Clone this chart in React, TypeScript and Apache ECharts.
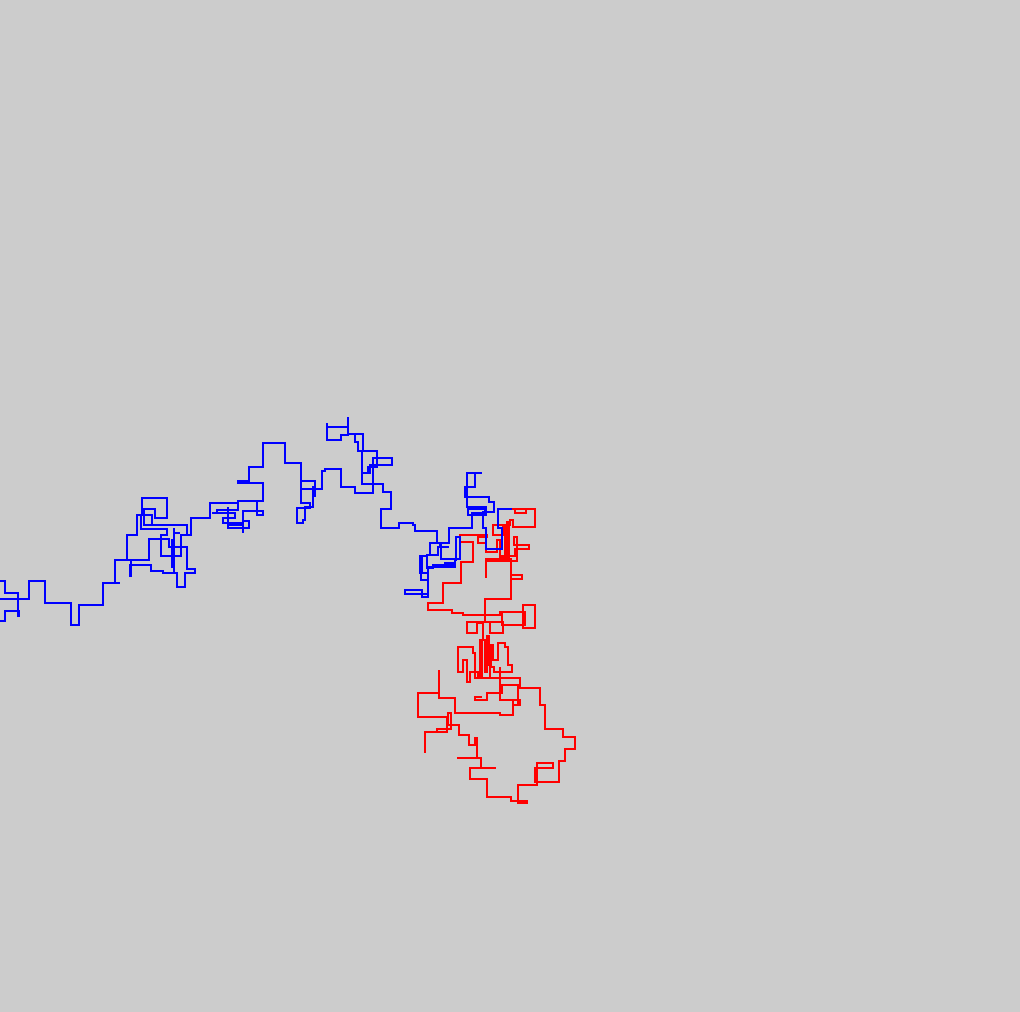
import React, { useEffect, useRef } from "react";
import * as echarts from "echarts";

// Pixel-space coordinates of two lattice random walks (x to the right, y downward)
const blueWalk: [number, number][] = [
  [512, 509], [498, 509], [498, 528], [502, 528], [502, 549], [486, 549], [486, 528], [483, 528], [483, 512],
  [494, 512], [494, 502], [489, 502], [489, 497], [465, 497], [465, 487], [475, 487], [475, 473], [482, 473],
  [467, 473], [467, 507], [486, 507], [486, 515], [468, 515], [468, 509], [485, 509], [485, 513], [472, 513],
  [472, 528], [449, 528], [449, 543], [441, 543], [441, 559], [460, 559], [460, 537], [456, 537], [456, 560],
  [455, 560], [455, 565], [433, 565], [433, 568], [427, 568], [427, 556], [420, 556], [420, 573], [422, 573],
  [422, 558], [420, 558], [420, 573], [428, 573], [428, 567], [455, 567], [455, 563], [445, 563], [445, 567],
  [428, 567], [428, 597], [422, 597], [422, 590], [405, 590], [405, 594], [428, 594], [428, 580], [421, 580],
  [421, 573], [420, 573], [420, 556], [427, 556], [427, 555], [430, 555], [430, 543], [440, 543], [440, 547],
  [449, 547], [438, 547], [438, 555], [430, 555], [430, 543], [437, 543], [437, 531], [415, 531], [415, 525],
  [413, 525], [413, 523], [399, 523], [399, 528], [381, 528], [381, 509], [391, 509], [391, 492], [383, 492],
  [383, 484], [362, 484], [362, 451], [358, 451], [358, 442], [355, 442], [355, 434], [348, 434], [348, 417],
  [348, 427], [327, 427], [327, 423], [327, 440], [341, 440], [341, 435], [348, 435], [348, 434], [363, 434],
  [363, 451], [377, 451], [377, 467], [368, 467], [368, 473], [362, 473], [370, 473], [370, 465], [392, 465],
  [392, 458], [373, 458], [373, 493], [355, 493], [355, 487], [341, 487], [341, 469], [325, 469], [325, 471],
  [322, 471], [322, 489], [315, 489], [315, 481], [301, 481], [301, 489], [313, 489], [313, 496], [315, 496],
  [315, 487], [313, 487], [313, 507], [305, 507], [305, 520], [303, 520], [303, 523], [297, 523], [297, 508],
  [310, 508], [310, 503], [301, 503], [301, 463], [285, 463], [285, 443], [263, 443], [263, 467], [249, 467],
  [249, 483], [238, 483], [238, 481], [249, 481], [249, 483], [263, 483], [263, 501], [257, 501], [257, 515],
  [263, 515], [263, 511], [243, 511], [243, 533], [243, 521], [249, 521], [249, 528], [228, 528], [228, 507],
  [228, 525], [243, 525], [243, 523], [223, 523], [223, 518], [235, 518], [235, 513], [212, 513], [217, 513],
  [217, 510], [238, 510], [238, 501], [257, 501], [238, 501], [238, 503], [210, 503], [210, 518], [191, 518],
  [191, 535], [181, 535], [181, 556], [161, 556], [161, 535], [167, 535], [167, 529], [141, 529], [141, 515],
  [152, 515], [152, 525], [187, 525], [187, 535], [187, 525], [144, 525], [144, 509], [155, 509], [155, 518],
  [167, 518], [167, 498], [142, 498], [142, 515], [137, 515], [137, 535], [127, 535], [127, 560], [149, 560],
  [149, 539], [169, 539], [169, 547], [187, 547], [187, 569], [195, 569], [195, 573], [185, 573], [185, 587],
  [177, 587], [177, 573], [174, 573], [174, 528], [174, 533], [180, 533], [174, 533], [174, 567], [172, 567],
  [172, 540], [174, 540], [174, 573], [163, 573], [163, 571], [151, 571], [151, 565], [130, 565], [130, 576],
  [131, 576], [131, 560], [115, 560], [115, 583], [120, 583], [103, 583], [103, 605], [79, 605], [79, 625],
  [71, 625], [71, 603], [45, 603], [45, 581], [29, 581], [29, 599], [-10, 599], [-10, 581], [5, 581], [5, 593],
  [18, 593], [18, 616], [19, 616], [19, 611], [5, 611], [5, 621], [-10, 621],
];

const redWalk: [number, number][] = [
  [512, 509], [526, 509], [526, 513], [515, 513], [515, 509], [535, 509], [535, 527], [513, 527], [513, 520],
  [510, 520], [510, 525], [493, 525], [493, 535], [503, 535], [503, 525], [505, 525], [505, 557], [507, 557],
  [507, 522], [509, 522], [509, 557], [500, 557], [500, 540], [497, 540], [497, 552], [486, 552], [486, 543],
  [478, 543], [478, 537], [487, 537], [487, 535], [460, 535], [460, 542], [473, 542], [473, 562], [461, 562],
  [461, 583], [443, 583], [443, 603], [428, 603], [428, 610], [452, 610], [452, 613], [463, 613], [463, 615],
  [485, 615], [485, 599], [511, 599], [511, 579], [522, 579], [522, 575], [511, 575], [511, 559], [486, 559],
  [486, 578], [486, 561], [517, 561], [517, 537], [514, 537], [514, 545], [529, 545], [529, 549], [515, 549],
  [515, 556], [500, 556], [500, 559], [511, 559], [511, 599], [485, 599], [485, 615], [500, 615], [500, 612],
  [525, 612], [525, 625], [502, 625], [502, 612], [523, 612], [523, 605], [535, 605], [535, 628], [523, 628],
  [523, 612], [500, 612], [500, 615], [485, 615], [485, 622], [503, 622], [503, 633], [490, 633], [490, 622],
  [467, 622], [467, 633], [477, 633], [477, 623], [483, 623], [483, 640], [480, 640], [480, 676], [482, 676],
  [482, 640], [485, 640], [485, 672], [487, 672], [487, 636], [489, 636], [489, 665], [491, 665], [491, 645],
  [493, 645], [493, 660], [498, 660], [498, 643], [505, 643], [505, 647], [508, 647], [508, 665], [512, 665],
  [512, 672], [494, 672], [494, 667], [490, 667], [490, 678], [475, 678], [475, 670], [475, 653], [473, 653],
  [473, 647], [458, 647], [458, 672], [463, 672], [463, 660], [467, 660], [467, 682], [470, 682], [470, 672],
  [478, 672], [478, 678], [520, 678], [520, 688], [540, 688], [540, 705], [545, 705], [545, 729], [563, 729],
  [563, 737], [575, 737], [575, 749], [565, 749], [565, 761], [559, 761], [559, 782], [537, 782], [537, 763],
  [553, 763], [553, 768], [535, 768], [535, 782], [537, 782], [537, 785], [518, 785], [518, 801], [527, 801],
  [527, 803], [518, 803], [518, 801], [511, 801], [511, 797], [487, 797], [487, 779], [470, 779], [470, 768],
  [496, 768], [481, 768], [481, 758], [457, 758], [477, 758], [477, 738], [475, 738], [475, 745], [469, 745],
  [469, 735], [459, 735], [459, 725], [448, 725], [448, 713], [451, 713], [451, 729], [447, 729], [437, 729],
  [437, 732], [425, 732], [425, 753], [425, 732], [447, 732], [447, 717], [418, 717], [418, 693], [439, 693],
  [439, 670], [439, 698], [455, 698], [455, 713], [500, 713], [500, 715], [513, 715], [513, 700], [500, 700],
  [500, 667], [500, 700], [520, 700], [520, 705], [513, 705], [518, 705], [518, 685], [502, 685], [502, 693],
  [487, 693], [487, 700], [475, 700], [475, 697], [482, 697],
];

const WIDTH = 1020;
const HEIGHT = 1012;

export default function App() {
  const ref = useRef<HTMLDivElement>(null);
  useEffect(() => {
    if (!ref.current) return;
    const chart = echarts.init(ref.current, undefined, { renderer: "svg" });
    chart.setOption({
      animation: false,
      backgroundColor: "#cccccc",
      grid: { left: 0, right: 0, top: 0, bottom: 0, containLabel: false },
      xAxis: { type: "value", min: 0, max: WIDTH, show: false },
      yAxis: { type: "value", min: 0, max: HEIGHT, inverse: true, show: false },
      series: [
        {
          name: "red",
          type: "line",
          data: redWalk,
          showSymbol: false,
          silent: true,
          clip: true,
          lineStyle: { color: "#ff0000", width: 2, join: "miter" },
          itemStyle: { color: "#ff0000" },
        },
        {
          name: "blue",
          type: "line",
          data: blueWalk,
          showSymbol: false,
          silent: true,
          clip: true,
          lineStyle: { color: "#0000ff", width: 2, join: "miter" },
          itemStyle: { color: "#0000ff" },
        },
      ],
    });
    return () => chart.dispose();
  }, []);
  return (
    <div
      ref={ref}
      style={{ position: "fixed", left: 0, top: 0, width: WIDTH, height: HEIGHT }}
    />
  );
}
